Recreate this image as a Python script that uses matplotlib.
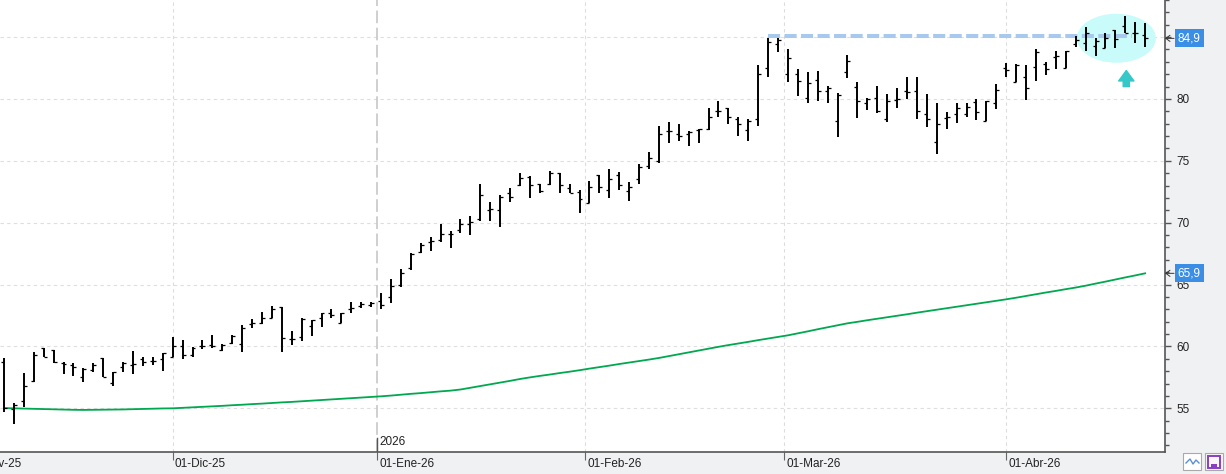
import numpy as np
import pandas as pd
import matplotlib.pyplot as plt
from matplotlib.patches import Ellipse, Rectangle
from matplotlib.ticker import MultipleLocator

plt.rcParams['font.family'] = ['Liberation Sans', 'DejaVu Sans']

# trading calendar (BME holidays inside the window)
holidays = ['2025-12-25', '2025-12-26', '2026-01-01', '2026-04-03', '2026-04-06']
dates = pd.bdate_range('2025-11-06', '2026-04-23', freq='C', holidays=holidays)
month_starts = pd.date_range('2025-11-01', '2026-04-01', freq='MS')
month_names = {11: 'Nov', 12: 'Dic', 1: 'Ene', 2: 'Feb', 3: 'Mar', 4: 'Abr'}

opens = [58.72, 54.94, 55.59, 57.23, 59.85, 59.71, 58.66, 58.48, 57.55, 58.10,
         59.09, 57.02, 58.36, 58.50, 58.96, 58.80, 58.96, 59.17, 60.04, 59.28,
         60.06, 60.10, 59.71, 60.24, 60.17, 61.85, 61.87, 62.27, 63.16, 60.58,
         60.79, 61.65, 62.27, 62.68, 61.87, 63.00, 63.27, 63.35, 63.67, 64.02,
         64.97, 66.32, 67.66, 68.45, 68.60, 69.05, 69.41, 69.90, 70.28, 71.03,
         71.03, 72.38, 73.05, 73.72, 73.10, 73.10, 73.99, 72.78, 72.48, 71.62,
         73.86, 72.64, 73.86, 72.56, 73.51, 74.58, 74.99, 77.41, 77.17, 77.15,
         77.49, 77.60, 79.00, 79.25, 78.38, 77.49, 78.36, 82.48, 84.42, 82.02,
         82.02, 80.06, 81.54, 80.67, 78.22, 82.16, 80.95, 79.65, 80.06, 78.36,
         79.92, 80.65, 80.65, 78.76, 76.55, 78.50, 78.76, 78.76, 79.73, 78.22,
         79.65, 82.48, 81.35, 81.75, 82.56, 82.83, 83.42, 82.53, 84.45, 84.55,
         84.28, 84.10, 85.58, 85.90, 85.36, 85.17]
highs = [59.04, 55.45, 57.83, 59.53, 59.85, 59.71, 58.72, 58.64, 58.23, 58.64,
         59.09, 57.96, 58.72, 59.63, 59.17, 59.17, 59.44, 60.79, 60.52, 59.98,
         60.52, 60.92, 60.20, 60.92, 61.73, 62.22, 62.76, 63.27, 63.16, 61.25,
         62.27, 62.14, 62.73, 63.00, 62.68, 63.62, 63.62, 63.62, 64.29, 65.43,
         66.23, 67.53, 68.39, 68.87, 69.90, 69.33, 70.28, 70.54, 73.13, 71.70,
         72.24, 72.78, 73.99, 73.78, 73.13, 74.18, 73.99, 73.13, 72.64, 73.37,
         73.86, 74.34, 74.12, 73.32, 74.72, 75.74, 77.84, 78.12, 77.98, 77.44,
         77.58, 79.25, 79.86, 79.25, 78.52, 78.36, 82.75, 84.91, 84.91, 84.02,
         82.40, 82.16, 82.26, 81.05, 80.46, 83.56, 81.40, 80.06, 81.05, 80.40,
         80.86, 81.75, 81.75, 80.40, 79.70, 78.92, 79.65, 79.65, 79.97, 79.86,
         81.21, 82.89, 82.80, 82.75, 84.02, 83.02, 83.88, 83.88, 85.10, 85.80,
         84.91, 85.36, 85.58, 86.71, 86.25, 86.17]
lows = [54.73, 53.73, 55.13, 57.15, 59.12, 58.64, 57.75, 57.64, 57.15, 57.96,
        57.55, 56.83, 57.96, 57.75, 58.44, 58.50, 58.04, 59.12, 58.96, 59.17,
        59.79, 59.85, 59.63, 60.20, 59.57, 61.47, 61.79, 62.27, 59.57, 60.12,
        60.44, 60.87, 61.60, 62.27, 61.87, 62.73, 63.08, 63.21, 63.00, 63.49,
        64.83, 66.18, 67.58, 67.74, 68.47, 67.98, 69.14, 69.01, 70.14, 70.16,
        69.68, 71.70, 72.97, 72.02, 72.38, 73.05, 72.43, 72.38, 70.76, 71.57,
        72.43, 71.97, 72.64, 71.78, 73.13, 74.32, 74.80, 76.47, 76.63, 76.23,
        76.42, 77.49, 78.52, 77.95, 77.03, 76.63, 77.82, 81.75, 83.82, 81.40,
        80.24, 79.70, 79.86, 79.65, 76.95, 81.72, 78.49, 79.11, 78.89, 78.17,
        79.25, 80.00, 78.36, 77.76, 75.55, 77.55, 78.04, 78.52, 78.30, 78.22,
        79.19, 81.80, 81.35, 79.92, 81.48, 81.94, 82.40, 82.48, 84.18, 83.88,
        83.48, 84.10, 84.15, 85.36, 84.50, 84.23]
closes = [55.00, 55.27, 56.80, 59.30, 59.12, 58.77, 58.55, 58.36, 58.18, 58.50,
          57.55, 57.91, 58.64, 58.55, 58.74, 58.85, 59.44, 60.06, 59.28, 59.85,
          60.06, 60.00, 60.10, 60.85, 61.51, 61.90, 62.32, 63.03, 60.66, 60.62,
          62.19, 62.14, 62.68, 62.54, 62.68, 63.08, 63.40, 63.49, 63.35, 64.89,
          65.96, 67.45, 68.20, 68.50, 69.09, 69.08, 69.90, 70.08, 72.24, 71.08,
          72.10, 72.10, 73.59, 73.05, 72.59, 74.04, 73.05, 72.43, 71.89, 72.86,
          72.86, 73.51, 73.02, 72.86, 74.48, 75.21, 77.17, 77.44, 77.03, 77.36,
          77.55, 78.52, 79.05, 78.52, 77.98, 78.22, 82.02, 84.58, 84.77, 83.29,
          81.48, 81.27, 80.67, 80.91, 80.32, 83.07, 79.84, 80.00, 79.03, 79.84,
          80.00, 80.54, 79.05, 78.38, 77.95, 78.55, 79.25, 79.33, 78.92, 79.84,
          80.73, 82.34, 82.75, 80.86, 83.82, 82.40, 83.45, 83.88, 84.80, 85.36,
          84.70, 84.91, 84.83, 85.36, 85.31, 84.90]
ma200 = [55.02, 55.00, 54.98, 54.96, 54.94, 54.92, 54.90, 54.88, 54.87, 54.88,
         54.89, 54.90, 54.91, 54.93, 54.95, 54.97, 54.99, 55.00, 55.04, 55.08,
         55.12, 55.16, 55.20, 55.25, 55.29, 55.34, 55.38, 55.43, 55.48, 55.52,
         55.57, 55.62, 55.67, 55.72, 55.77, 55.82, 55.87, 55.92, 55.97, 56.03,
         56.10, 56.17, 56.23, 56.30, 56.37, 56.43, 56.52, 56.66, 56.80, 56.94,
         57.08, 57.22, 57.37, 57.50, 57.62, 57.73, 57.85, 57.96, 58.08, 58.21,
         58.33, 58.45, 58.58, 58.70, 58.82, 58.94, 59.07, 59.22, 59.37, 59.52,
         59.67, 59.82, 59.97, 60.11, 60.24, 60.37, 60.51, 60.64, 60.77, 60.90,
         61.06, 61.22, 61.39, 61.55, 61.71, 61.87, 61.99, 62.12, 62.24, 62.36,
         62.48, 62.60, 62.73, 62.85, 62.97, 63.09, 63.21, 63.33, 63.45, 63.57,
         63.69, 63.81, 63.94, 64.08, 64.22, 64.36, 64.49, 64.63, 64.76, 64.91,
         65.08, 65.24, 65.41, 65.58, 65.74, 65.91]
resistance = 85.1
resistance_from = 77   # bar that set the high

x = np.arange(len(dates))

fig = plt.figure(figsize=(12.26, 4.74), dpi=100, facecolor='#f0f1f3')
ax = fig.add_axes([0, 22 / 474, 1165 / 1226, 452 / 474])
ax.set_facecolor('white')
ax.set_xlim(-0.4, 117.0)
ax.set_ylim(51.47, 88.0)

# month positions on the trading-day axis
month_pos = []
for ms in month_starts:
    p = float(np.busday_count(dates[0].date(), ms.date(), holidays=holidays))
    if p > 0 and not np.is_busday(ms.date(), holidays=holidays):
        p -= 0.4
    month_pos.append(p)

xt = ax.get_xaxis_transform()
for ms, p in zip(month_starts, month_pos):
    if ms.month == 1:
        ax.axvline(p, color='#cbcbcb', lw=1.3, dashes=(7, 2.5), zorder=1)
        ax.plot([p, p], [0, 0.031], transform=xt, color='#555555', lw=1, zorder=4)
        ax.annotate(str(ms.year), xy=(p, 0), xycoords=xt, xytext=(1.5, 7),
                    textcoords='offset points', ha='left', va='center',
                    fontsize=8.5, color='#222222')
    elif p > 0:
        ax.axvline(p, color='#dcdcdc', lw=0.8, dashes=(3, 3), zorder=1)
    label = '01-%s-%s' % (month_names[ms.month], ms.strftime('%y'))
    ax.annotate(label, xy=(p, 0), xycoords=xt, xytext=(1.5, -8.4),
                textcoords='offset points', ha='left', va='center',
                fontsize=8.5, color='#222222', annotation_clip=False)

ax.set_xticks([p for p in month_pos if p > 0])
ax.set_xticklabels([])
ax.tick_params(axis='x', length=5.8, width=0.8, color='#666666', direction='out')

# y axis on the right
ax.yaxis.tick_right()
ax.yaxis.set_major_locator(MultipleLocator(5))
ax.yaxis.set_minor_locator(MultipleLocator(1))
ax.tick_params(axis='y', which='major', length=4.5, width=1, color='#555555',
               labelsize=8.5, labelcolor='#222222', pad=3.5)
ax.tick_params(axis='y', which='minor', length=3, width=1, color='#555555')
ax.yaxis.grid(True, which='major', color='#dedede', lw=0.8, dashes=(3, 3))
ax.set_axisbelow(True)

for s in ['left', 'top']:
    ax.spines[s].set_visible(False)
for s in ['right', 'bottom']:
    ax.spines[s].set_color('#555555')
    ax.spines[s].set_linewidth(1.2)

# highlight around the latest bars
ax.add_patch(Ellipse((112.1, 84.91), 7.96, 3.96, facecolor='#c9fbfb',
                     edgecolor='none', zorder=1.6))
ax.plot([resistance_from, len(x) - 2.3], [resistance, resistance],
        color='#a8c8ee', lw=2.9, dashes=(3.0, 1.1), solid_capstyle='butt',
        zorder=2)
ax.annotate('', xy=(113.1, 82.3), xytext=(113.1, 81.0),
            arrowprops=dict(arrowstyle='simple,head_width=1.1,head_length=0.75,tail_width=0.45',
                            color='#35c8c8', mutation_scale=10, shrinkA=0, shrinkB=0))

# moving average
ax.plot(x, ma200, color='#00a84f', lw=1.3, zorder=2.5)

# OHLC bars
ax.vlines(x, lows, highs, color='black', lw=1.4, zorder=3)
ax.hlines(opens, x - 0.3, x, color='black', lw=0.9, zorder=3)
ax.hlines(closes, x, x + 0.3, color='black', lw=0.9, zorder=3)

# last value markers on the price scale
yt = ax.get_yaxis_transform()
for val in [closes[-1], ma200[-1]]:
    txt = ('%.1f' % val).replace('.', ',')
    ax.annotate('', xy=(1.0, val), xycoords=yt, xytext=(6.5, 0),
                textcoords='offset points', annotation_clip=False,
                arrowprops=dict(arrowstyle='->,head_length=0.3,head_width=0.22',
                                color='#333333', lw=0.7, shrinkA=0, shrinkB=0))
    ax.annotate(txt, xy=(1.0, val), xycoords=yt, xytext=(9.2, 0),
                textcoords='offset points', ha='left', va='center',
                fontsize=8.5, color='white', annotation_clip=False, zorder=6,
                bbox=dict(boxstyle='square,pad=0.25', fc='#3b8ee5', ec='none'))

# small toolbar buttons at bottom right
W, H = 1226, 474
fig.add_artist(Rectangle((1183 / W, 4 / H), 18 / W, 17 / H, transform=fig.transFigure,
                         facecolor='white', edgecolor='#a9a9a9', lw=0.8))
fig.add_artist(plt.Line2D([1186 / W, 1190 / W, 1193 / W, 1196 / W, 1199 / W],
                          [11 / H, 15 / H, 10 / H, 14 / H, 11 / H],
                          transform=fig.transFigure, color='#5b8fd6', lw=1))
fig.add_artist(Rectangle((1205 / W, 4 / H), 18 / W, 17 / H, transform=fig.transFigure,
                         facecolor='#f7f7f7', edgecolor='#a9a9a9', lw=0.8))
fig.add_artist(Rectangle((1208 / W, 6 / H), 12 / W, 12 / H, transform=fig.transFigure,
                         facecolor='none', edgecolor='#8a3fc2', lw=1.4))
fig.add_artist(Rectangle((1211 / W, 6 / H), 6 / W, 4 / H, transform=fig.transFigure,
                         facecolor='#8a3fc2', edgecolor='none'))

fig.savefig('out.png', dpi=100, facecolor=fig.get_facecolor())
